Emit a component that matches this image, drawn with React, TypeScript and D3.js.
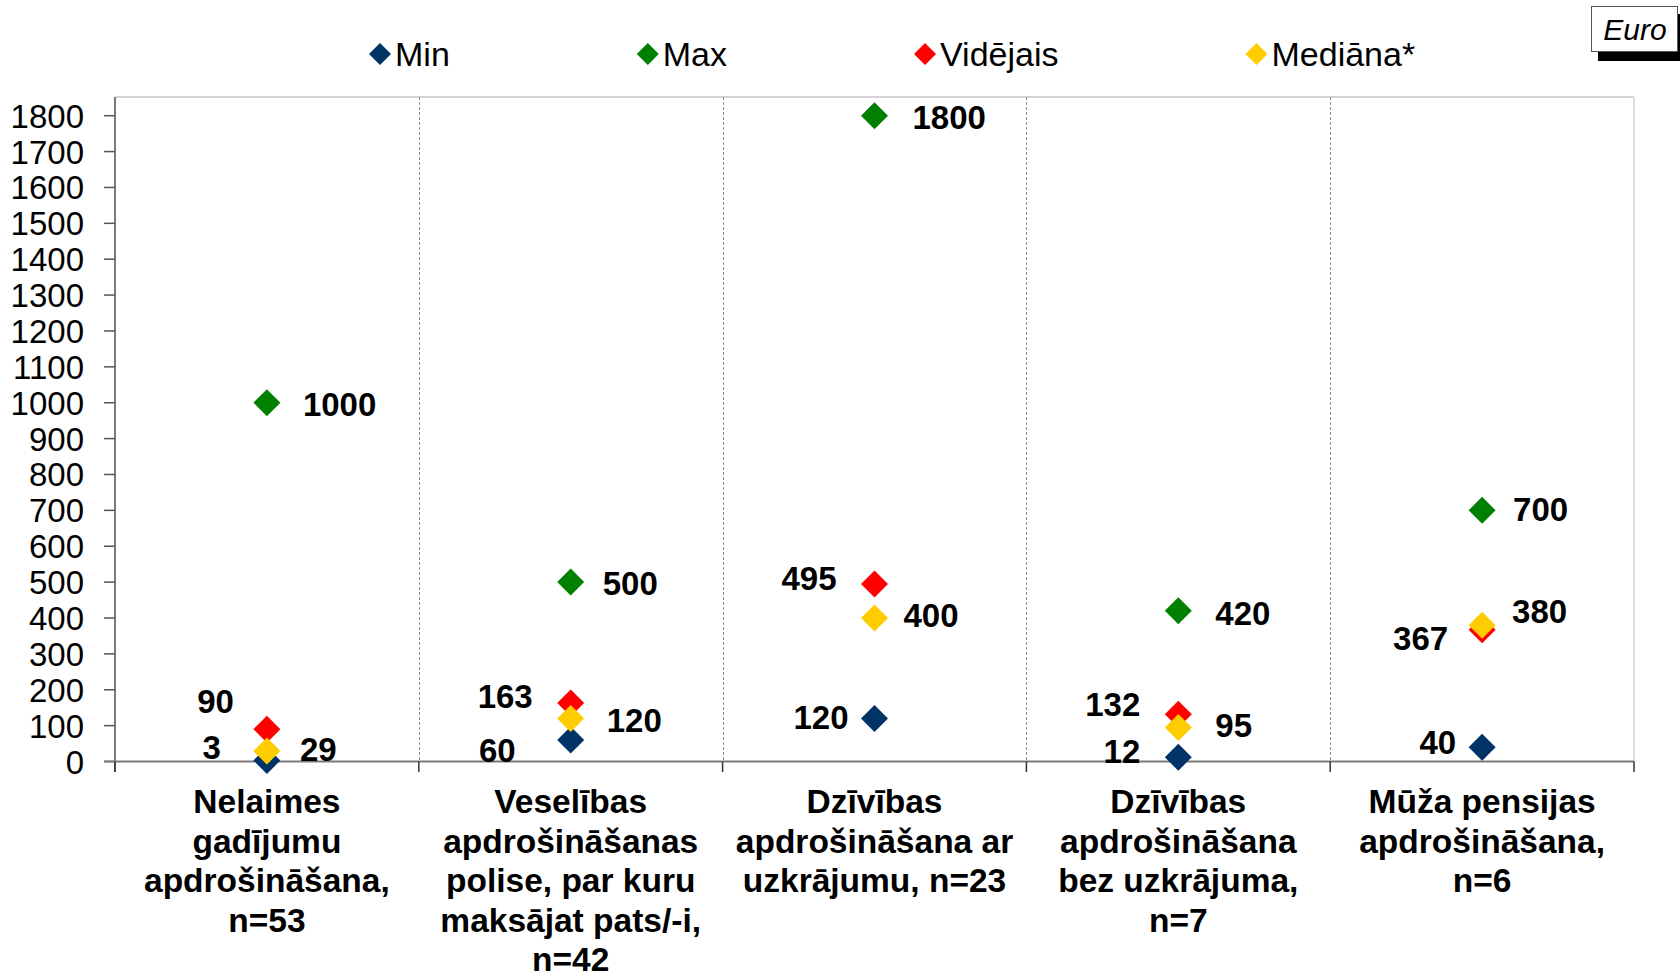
import React, { useEffect, useRef } from "react";
import * as d3 from "d3";

const categories: string[][] = [
  ["Nelaimes", "gadījumu", "apdrošināšana,", "n=53"],
  ["Veselības", "apdrošināšanas", "polise, par kuru", "maksājat pats/-i,", "n=42"],
  ["Dzīvības", "apdrošināšana ar", "uzkrājumu, n=23"],
  ["Dzīvības", "apdrošināšana", "bez uzkrājuma,", "n=7"],
  ["Mūža pensijas", "apdrošināšana,", "n=6"],
];

const minValues = [3, 60, 120, 12, 40];
const maxValues = [1000, 500, 1800, 420, 700];
const meanValues = [90, 163, 495, 132, 367];
const medianValues = [29, 120, 400, 95, 380];

const seriesNames = ["Min", "Max", "Vidējais", "Mediāna*"];
const yTicks = [0, 100, 200, 300, 400, 500, 600, 700, 800, 900, 1000, 1100, 1200, 1300, 1400, 1500, 1600, 1700, 1800];
const unitLabel = "Euro";

// styling / label placement (not data)
const seriesColors = ["#003366", "#008000", "#FF0000", "#FFCC00"];
// [edge offset from marker (positive: label starts right, negative: label ends left), dy of label center]
const labelPlacement: [number, number][][] = [
  [[-46, -13], [-55, 10], [-26, -1], [-38, -6], [-26, -5]],
  [[36, 1], [32, 1], [38, 1], [37, 2], [31, -1]],
  [[-33, -28], [-38, -7], [-38, -6], [-38, -10], [-34, 8]],
  [[33, -2], [36, 2], [29, -3], [37, -2], [30, -14]],
];

const FONT = "'Liberation Sans', Arial, sans-serif";

export default function App() {
  const ref = useRef<SVGSVGElement | null>(null);

  useEffect(() => {
    document.body.style.margin = "0";
    const svg = d3.select(ref.current);
    svg.selectAll("*").remove();

    const W = 1680;
    const H = 973;
    const left = 115;
    const right = 1634;
    const top = 97;
    const zeroY = 761.5;

    const y = d3.scaleLinear().domain([0, 1800]).range([zeroY, 115.7]);
    const x = d3.scaleBand<number>().domain(d3.range(categories.length)).range([left, right]).padding(0);

    const allSeries = [minValues, maxValues, meanValues, medianValues];

    svg.attr("width", W).attr("height", H).style("display", "block").style("font-family", FONT);

    // plot border top/right
    svg.append("line").attr("x1", left).attr("x2", right).attr("y1", top).attr("y2", top)
      .attr("stroke", "#d4d4d4").attr("stroke-width", 2);
    svg.append("line").attr("x1", right).attr("x2", right).attr("y1", top).attr("y2", zeroY)
      .attr("stroke", "#d4d4d4").attr("stroke-width", 1.5);

    // dashed category separators
    for (let i = 1; i < categories.length; i++) {
      const xx = Math.round(x(i)!) + 0.5;
      svg.append("line").attr("x1", xx).attr("x2", xx).attr("y1", top).attr("y2", zeroY)
        .attr("stroke", "#8c8c8c").attr("stroke-width", 1).attr("stroke-dasharray", "3,2");
    }

    // y axis
    svg.append("line").attr("x1", left).attr("x2", left).attr("y1", top).attr("y2", 772)
      .attr("stroke", "#7a7a7a").attr("stroke-width", 2);
    yTicks.forEach((t) => {
      const yy = y(t);
      svg.append("line").attr("x1", 104).attr("x2", left).attr("y1", yy).attr("y2", yy)
        .attr("stroke", "#555").attr("stroke-width", 1.5);
      svg.append("text").attr("x", 84).attr("y", yy + 12).attr("text-anchor", "end")
        .attr("font-size", 33).attr("fill", "#000").text(String(t));
    });

    // x axis
    svg.append("line").attr("x1", 104).attr("x2", right).attr("y1", zeroY).attr("y2", zeroY)
      .attr("stroke", "#7a7a7a").attr("stroke-width", 2);
    for (let i = 0; i <= categories.length; i++) {
      const xx = i === categories.length ? right : x(i)!;
      svg.append("line").attr("x1", xx).attr("x2", xx).attr("y1", zeroY).attr("y2", 772)
        .attr("stroke", "#333").attr("stroke-width", 1.5);
    }

    // category labels
    categories.forEach((lines, i) => {
      const cx = x(i)! + x.bandwidth() / 2;
      const t = svg.append("text").attr("text-anchor", "middle").attr("font-size", 33.5)
        .attr("font-weight", "bold").attr("fill", "#000");
      lines.forEach((ln, k) => {
        t.append("tspan").attr("x", cx).attr("y", 813 + k * 39.5).text(ln);
      });
    });

    // markers and labels
    const diamond = (cx: number, cy: number, r: number) =>
      `M${cx},${cy - r}L${cx + r},${cy}L${cx},${cy + r}L${cx - r},${cy}Z`;

    allSeries.forEach((vals, s) => {
      vals.forEach((v, i) => {
        const cx = x(i)! + x.bandwidth() / 2;
        const cy = y(v);
        svg.append("path").attr("d", diamond(cx, cy, 13.5)).attr("fill", seriesColors[s]);
      });
    });
    allSeries.forEach((vals, s) => {
      vals.forEach((v, i) => {
        const cx = x(i)! + x.bandwidth() / 2;
        const cy = y(v);
        const [dx, dy] = labelPlacement[s][i];
        svg.append("text")
          .attr("x", cx + dx)
          .attr("y", cy + dy + 12)
          .attr("text-anchor", dx >= 0 ? "start" : "end")
          .attr("font-size", 33).attr("font-weight", "bold").attr("fill", "#000")
          .text(String(v));
      });
    });

    // legend
    let lx = 380;
    const ly = 54;
    seriesNames.forEach((name, s) => {
      svg.append("path").attr("d", diamond(lx, ly, 11)).attr("fill", seriesColors[s]);
      const t = svg.append("text").attr("x", lx + 15).attr("y", ly + 12)
        .attr("font-size", 34).attr("fill", "#000").text(name);
      const w = (t.node() as SVGTextElement).getComputedTextLength();
      lx = lx + 15 + w + 198;
    });

    // Euro box with shadow
    svg.append("rect").attr("x", 1598).attr("y", 14).attr("width", 90).attr("height", 47).attr("fill", "#000");
    svg.append("rect").attr("x", 1591.5).attr("y", 6.5).attr("width", 86).attr("height", 45)
      .attr("fill", "#fff").attr("stroke", "#555").attr("stroke-width", 1);
    svg.append("text").attr("x", 1635).attr("y", 40).attr("text-anchor", "middle")
      .attr("font-size", 30).attr("font-style", "italic").attr("fill", "#000").text(unitLabel);
  }, []);

  return <svg ref={ref} />;
}
